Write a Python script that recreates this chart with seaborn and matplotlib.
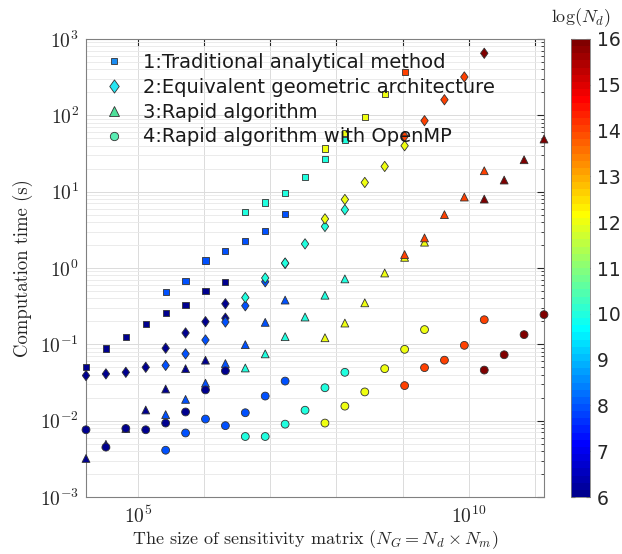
import numpy as np
import pandas as pd
import matplotlib
matplotlib.use("Agg")
import matplotlib.pyplot as plt
import seaborn as sns
from matplotlib.colors import ListedColormap, Normalize
from matplotlib.lines import Line2D
from matplotlib.path import Path
from matplotlib.ticker import LogLocator, NullLocator, FixedLocator, FixedFormatter, FuncFormatter

# ---------------- data ----------------
# log2(N_d) of each point, log2(N_G) of each point, computation time (s)
m1_nd = [6]*8 + [8]*7 + [10]*6 + [12]*4 + [14]
m1_ng = list(range(14, 22)) + list(range(18, 25)) + list(range(22, 28)) + list(range(26, 30)) + [30]
m1_t = [0.051, 0.088, 0.126, 0.184, 0.26, 0.33, 0.50, 0.65,
        0.49, 0.67, 1.25, 1.66, 2.27, 3.06, 5.05,
        5.4, 7.2, 9.5, 15.6, 27, 47,
        36.8, 58.5, 96, 189,
        367]

m2_nd = [6]*9 + [8]*7 + [10]*6 + [12]*5 + [14]*4 + [16]
m2_ng = (list(range(14, 22)) + [21] + list(range(18, 25)) + list(range(22, 28))
         + list(range(26, 31)) + list(range(30, 34)) + [34])
m2_t = [0.039, 0.041, 0.043, 0.050, 0.089, 0.141, 0.198, 0.34, 0.22,
        0.053, 0.075, 0.114, 0.196, 0.32, 0.66, 1.15,
        0.41, 0.74, 1.16, 2.07, 3.5, 5.8,
        4.4, 7.9, 13.2, 21.4, 40,
        53, 85, 160, 318,
        650]

m3_nd = [6]*7 + [8]*7 + [10]*6 + [12]*6 + [14]*5 + [16]*4
m3_ng = (list(range(14, 21)) + list(range(18, 25)) + list(range(22, 28))
         + list(range(26, 32)) + list(range(30, 35)) + list(range(34, 38)))
m3_t = [0.0032, 0.0049, 0.0079, 0.0138, 0.026, 0.048, 0.062,
        0.012, 0.019, 0.031, 0.056, 0.099, 0.194, 0.38,
        0.049, 0.075, 0.126, 0.228, 0.44, 0.72,
        0.122, 0.19, 0.35, 0.86, 1.38, 2.18,
        1.5, 2.48, 5.0, 8.5, 18.8,
        8.0, 14.2, 26.2, 48.9]

m4_nd = [6]*8 + [8]*7 + [10]*6 + [12]*6 + [14]*5 + [16]*4
m4_ng = (list(range(14, 22)) + list(range(18, 25)) + list(range(22, 28))
         + list(range(26, 32)) + list(range(30, 35)) + list(range(34, 38)))
m4_t = [0.0076, 0.0045, 0.0079, 0.0076, 0.0093, 0.013, 0.0253, 0.045,
        0.0041, 0.0069, 0.0105, 0.0086, 0.0127, 0.021, 0.033,
        0.0062, 0.0062, 0.009, 0.0137, 0.027, 0.043,
        0.0093, 0.0155, 0.0238, 0.048, 0.086, 0.156,
        0.0288, 0.0495, 0.062, 0.097, 0.21,
        0.046, 0.073, 0.134, 0.245]

method_labels = ["1:Traditional analytical method",
                 "2:Equivalent geometric architecture",
                 "3:Rapid algorithm",
                 "4:Rapid algorithm with OpenMP"]
cbar_ticks = list(range(6, 17))

# ---------------- style ----------------
sns.set_style("white")
plt.rcParams["font.family"] = ["DejaVu Sans"]
plt.rcParams["mathtext.fontset"] = "cm"


def matlab_jet(m=64):
    n = int(np.ceil(m / 4))
    u = np.concatenate([np.arange(1, n + 1) / n, np.ones(n - 1), np.arange(n, 0, -1) / n])
    g = int(np.ceil(n / 2)) - (1 if m % 4 == 1 else 0) + np.arange(1, len(u) + 1)
    r = g + n
    b = g - n
    J = np.zeros((m, 3))
    for idx, ch in ((r, 0), (g, 1), (b, 2)):
        mask = (idx >= 1) & (idx <= m)
        J[idx[mask] - 1, ch] = u[mask]
    return ListedColormap(J)


cmap = matlab_jet(64)
norm = Normalize(6, 16)

diamond = Path([(0, 1), (0.72, 0), (0, -1), (-0.72, 0), (0, 1)],
               [Path.MOVETO, Path.LINETO, Path.LINETO, Path.LINETO, Path.CLOSEPOLY])

W, H = 622, 554
fig = plt.figure(figsize=(W / 100, H / 100), dpi=100)
ax = fig.add_axes([86 / W, (H - 497) / H, (544 - 86) / W, (497 - 39) / H])

edge = (0.2, 0.2, 0.2)
series = [(m1_nd, m1_ng, m1_t, "s", 20),
          (m2_nd, m2_ng, m2_t, diamond, 55),
          (m3_nd, m3_ng, m3_t, "^", 32),
          (m4_nd, m4_ng, m4_t, "o", 32)]
for i, (nd, ng, t, mk, s) in enumerate(series):
    df = pd.DataFrame({"NG": 2.0 ** np.array(ng), "t": t, "logNd": nd})
    sns.scatterplot(data=df, x="NG", y="t", hue="logNd", palette=cmap, hue_norm=norm,
                    marker=mk, s=s, edgecolor=edge, linewidth=0.6, legend=False,
                    ax=ax, clip_on=False, zorder=3 + i)

ax.set_xscale("log")
ax.set_yscale("log")
ax.set_xlim(2.0 ** 14, 2.0 ** 37)
ax.set_ylim(1e-3, 1e3)

ax.xaxis.set_major_locator(FixedLocator([10.0 ** k for k in range(5, 12)]))
ax.xaxis.set_major_formatter(FixedFormatter(["$10^{5}$", "", "", "", "", "$10^{10}$", ""]))
ax.xaxis.set_minor_locator(NullLocator())
ax.yaxis.set_major_locator(LogLocator(base=10, numticks=20))
ax.yaxis.set_minor_locator(LogLocator(base=10, subs=np.arange(2, 10), numticks=20))
ax.yaxis.set_major_formatter(FuncFormatter(lambda v, p: "$10^{%d}$" % int(round(np.log10(v)))))

ax.grid(True, which="major", color=(0.86, 0.86, 0.86), linewidth=0.7)
ax.yaxis.grid(True, which="minor", color=(0.91, 0.91, 0.91), linewidth=0.6)
ax.set_axisbelow(True)

spc = (0.15, 0.15, 0.15)
for sp in ax.spines.values():
    sp.set_color((0.5, 0.5, 0.5))
    sp.set_linewidth(0.8)
ax.tick_params(which="both", direction="in", top=True, right=True, color=spc,
               labelcolor=spc, labelsize=14)
ax.tick_params(axis="x", pad=6)
ax.tick_params(axis="y", pad=5)
ax.tick_params(which="major", length=5)
ax.tick_params(which="minor", length=2.5)

ax.set_xlabel("The size of sensitivity matrix $(N_G = N_d \\times N_m)$",
              family="cmr10", fontsize=13, color=spc, labelpad=1)
ax.set_ylabel("Computation time (s)", family="cmr10", fontsize=13.5, color=spc, labelpad=5)

leg_colors = [(0.1, 0.55, 0.95), (0.15, 0.9, 0.95), (0.3, 0.88, 0.6), (0.35, 0.93, 0.7)]
handles = [Line2D([], [], linestyle="none", marker=mk, markersize=ms, markerfacecolor=c,
                  markeredgecolor=edge, markeredgewidth=0.6)
           for mk, ms, c in zip(["s", diamond, "^", "o"], [5, 9.5, 6.5, 6], leg_colors)]
leg = ax.legend(handles, method_labels, loc="upper left", frameon=False, fontsize=14,
                bbox_to_anchor=(-0.01, 1.008), handletextpad=0.75, labelspacing=0.3,
                handlelength=1.5)
leg.set_zorder(20)
for tx in leg.get_texts():
    tx.set_color((0.1, 0.1, 0.1))

cax = fig.add_axes([571 / W, (H - 497) / H, 19 / W, (497 - 39) / H])
sm = plt.cm.ScalarMappable(norm=norm, cmap=cmap)
cb = fig.colorbar(sm, cax=cax)
cb.set_ticks(cbar_ticks)
cb.outline.set_edgecolor((0.5, 0.5, 0.5))
cb.outline.set_linewidth(0.6)
cax.tick_params(direction="in", length=3, labelsize=13.5, color=spc, labelcolor=spc,
                left=True, right=True, pad=5)
cax.set_title("$\\log(N_d)$", fontsize=13, color=spc, pad=12)

fig.savefig("out.png", dpi=100)
